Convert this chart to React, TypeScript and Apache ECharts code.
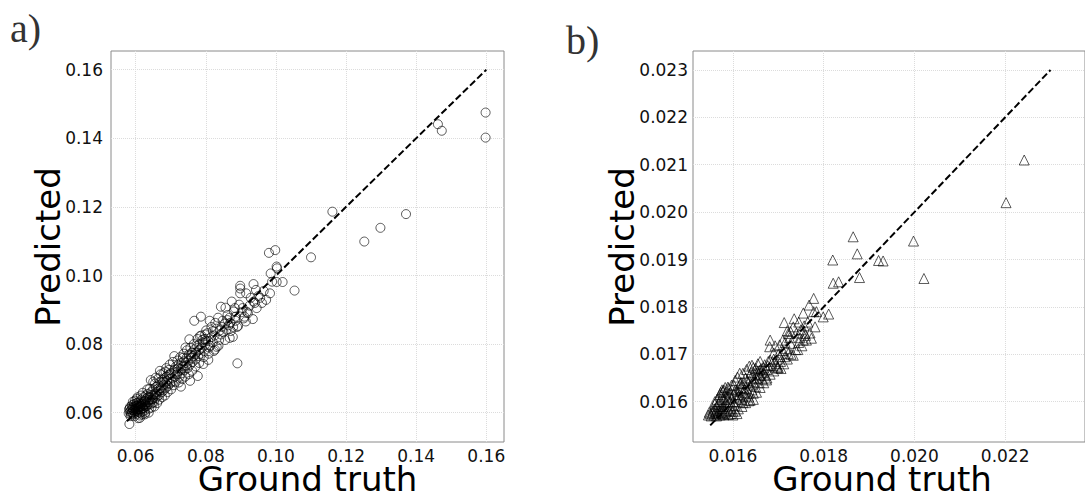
import React, { useEffect, useRef } from "react";
import * as echarts from "echarts";

const ticksAX = [0.06, 0.08, 0.1, 0.12, 0.14, 0.16];
const ticksAY = [0.06, 0.08, 0.1, 0.12, 0.14, 0.16];
const ticksBX = [0.016, 0.018, 0.02, 0.022];
const ticksBY = [0.016, 0.017, 0.018, 0.019, 0.02, 0.021, 0.022, 0.023];

const titleX = "Ground truth";
const titleY = "Predicted";
const panelLabels = ["a)", "b)"];

// panel a: [ground truth, predicted]
const pointsA = [
  [0.1598, 0.1475], [0.1598, 0.1402], [0.1462, 0.1441], [0.1473, 0.1422], [0.1161, 0.1186], [0.1371, 0.1179],
  [0.1298, 0.1139], [0.1252, 0.1099], [0.11, 0.1053], [0.1053, 0.0956], [0.098, 0.1066], [0.0998, 0.1074],
  [0.1002, 0.1026], [0.1003, 0.1021], [0.0985, 0.1006], [0.1002, 0.0981], [0.1019, 0.0981], [0.0989, 0.0982],
  [0.0983, 0.0948], [0.0972, 0.0929], [0.0936, 0.0975], [0.0943, 0.0958], [0.0955, 0.0935], [0.0936, 0.0924],
  [0.0898, 0.097], [0.0898, 0.0962], [0.0898, 0.0948], [0.0915, 0.0948], [0.0934, 0.0873], [0.0917, 0.0894],
  [0.089, 0.0744], [0.0843, 0.0909], [0.0874, 0.0924], [0.0895, 0.0915], [0.0856, 0.0906], [0.0767, 0.0868],
  [0.0786, 0.088], [0.0811, 0.0868], [0.0827, 0.0862], [0.0835, 0.0877], [0.0868, 0.0877], [0.0892, 0.0853],
  [0.0914, 0.0866], [0.0877, 0.0821], [0.0868, 0.0818], [0.0859, 0.0842], [0.0843, 0.0828], [0.0831, 0.0792],
  [0.0826, 0.0784], [0.0783, 0.0823], [0.0798, 0.0828], [0.0807, 0.0809], [0.0753, 0.0814], [0.0807, 0.0754],
  [0.0793, 0.0742], [0.0777, 0.0707], [0.0755, 0.0693], [0.0729, 0.0676], [0.0669, 0.0722], [0.0643, 0.0695],
  [0.0582, 0.0567], [0.0607, 0.0584],
  [0.0905, 0.0905], [0.091, 0.088], [0.088, 0.0895], [0.0862, 0.087], [0.0885, 0.0868], [0.0902, 0.0893],
  [0.0925, 0.0912], [0.094, 0.092], [0.095, 0.094], [0.0878, 0.085], [0.085, 0.0835], [0.0865, 0.0855],
  [0.0845, 0.085], [0.082, 0.0838], [0.0815, 0.082], [0.0805, 0.0832], [0.08, 0.081], [0.0792, 0.0805],
  [0.0812, 0.0795], [0.082, 0.0805], [0.0838, 0.0812],
  [0.07, 0.0715], [0.0705, 0.07], [0.071, 0.0725], [0.0712, 0.0705], [0.0715, 0.0735], [0.0718, 0.0712],
  [0.072, 0.072], [0.0722, 0.074], [0.0725, 0.0705], [0.0728, 0.0728], [0.073, 0.0745], [0.0732, 0.0715],
  [0.0735, 0.0735], [0.0738, 0.075], [0.074, 0.0725], [0.0742, 0.0745], [0.0745, 0.076], [0.0748, 0.073],
  [0.075, 0.0752], [0.0752, 0.077], [0.0755, 0.074], [0.0758, 0.076], [0.076, 0.0775], [0.0762, 0.0748],
  [0.0765, 0.0765], [0.0768, 0.0785], [0.077, 0.0755], [0.0772, 0.0775], [0.0775, 0.0795], [0.0778, 0.0765],
  [0.078, 0.0782], [0.0782, 0.08], [0.0785, 0.0772], [0.0788, 0.079], [0.079, 0.0812], [0.0795, 0.078],
  [0.0798, 0.0798], [0.0742, 0.079], [0.071, 0.0765], [0.0735, 0.076],
  [0.063, 0.064], [0.0632, 0.062], [0.0634, 0.0655], [0.0636, 0.0632], [0.0638, 0.0612], [0.064, 0.0645],
  [0.0642, 0.0625], [0.0644, 0.066], [0.0646, 0.0638], [0.0648, 0.065], [0.065, 0.0668], [0.0652, 0.063],
  [0.0654, 0.0655], [0.0656, 0.0642], [0.0658, 0.0675], [0.066, 0.066], [0.0662, 0.0648], [0.0664, 0.068],
  [0.0666, 0.0665], [0.0668, 0.0652], [0.067, 0.069], [0.0672, 0.0672], [0.0674, 0.066], [0.0676, 0.0695],
  [0.0678, 0.068], [0.068, 0.0665], [0.0682, 0.07], [0.0684, 0.0688], [0.0686, 0.0672], [0.0688, 0.0705],
  [0.069, 0.0692], [0.0692, 0.0678], [0.0694, 0.071], [0.0696, 0.0698], [0.0698, 0.0685], [0.0655, 0.0685],
  [0.064, 0.067], [0.0665, 0.07], [0.0685, 0.072], [0.0695, 0.0725],
  [0.058, 0.0598], [0.0581, 0.061], [0.0583, 0.0603], [0.0584, 0.0617], [0.0586, 0.0596], [0.0587, 0.0608],
  [0.0589, 0.0622], [0.059, 0.0601], [0.0591, 0.0613], [0.0593, 0.0595], [0.0594, 0.0606], [0.0595, 0.0625],
  [0.0597, 0.061], [0.0598, 0.06], [0.06, 0.0618], [0.0601, 0.0605], [0.0602, 0.0628], [0.0604, 0.0612],
  [0.0605, 0.0597], [0.0606, 0.0622], [0.0608, 0.0608], [0.0609, 0.0632], [0.061, 0.0615], [0.0612, 0.06],
  [0.0613, 0.0625], [0.0614, 0.061], [0.0616, 0.0638], [0.0617, 0.0618], [0.0618, 0.0603], [0.062, 0.063],
  [0.0621, 0.0614], [0.0622, 0.0645], [0.0624, 0.0622], [0.0625, 0.0606], [0.0626, 0.0635], [0.0628, 0.0618],
  [0.0629, 0.065], [0.0627, 0.06], [0.0611, 0.0592], [0.0596, 0.059], [0.0603, 0.064], [0.0615, 0.065],
  [0.0619, 0.0595], [0.0592, 0.0632], [0.0585, 0.059], [0.06, 0.0612], [0.0607, 0.0616], [0.0612, 0.062],
  [0.0618, 0.0625], [0.0623, 0.0612],
  [0.0598, 0.0635], [0.0605, 0.0645], [0.0612, 0.0585], [0.062, 0.0658], [0.0626, 0.0595], [0.0633, 0.0668],
  [0.0637, 0.06], [0.0645, 0.0615], [0.065, 0.069], [0.0653, 0.0618], [0.0657, 0.0702], [0.0661, 0.0628],
  [0.0667, 0.0638], [0.0671, 0.0712], [0.0675, 0.0645], [0.0679, 0.0715], [0.0683, 0.065], [0.0687, 0.073],
  [0.0691, 0.066], [0.0697, 0.074], [0.0701, 0.0668], [0.0706, 0.0748], [0.0709, 0.068], [0.0714, 0.069],
  [0.0719, 0.0752], [0.0723, 0.0688], [0.0727, 0.0762], [0.0733, 0.0698], [0.0737, 0.0772], [0.0741, 0.0705],
  [0.0746, 0.0782], [0.0751, 0.0712], [0.0756, 0.079], [0.0761, 0.0722], [0.0766, 0.08], [0.0771, 0.0735],
  [0.0776, 0.0815], [0.0781, 0.0745], [0.0787, 0.0825], [0.0794, 0.0762], [0.0801, 0.084], [0.0808, 0.0772],
  [0.0816, 0.085], [0.0823, 0.078], [0.083, 0.0845], [0.0836, 0.0795], [0.0848, 0.0868], [0.0855, 0.0812],
  [0.0862, 0.0885], [0.0871, 0.0838], [0.0883, 0.0905], [0.0889, 0.085], [0.0908, 0.0875], [0.092, 0.089],
  [0.0928, 0.0935], [0.0945, 0.0905], [0.096, 0.092], [0.0965, 0.0955],
  [0.064, 0.063], [0.0648, 0.064], [0.0657, 0.0652], [0.0663, 0.067], [0.0671, 0.0665], [0.0679, 0.069],
  [0.0688, 0.0682], [0.0697, 0.0712], [0.0703, 0.069], [0.0713, 0.0718], [0.0721, 0.073], [0.0731, 0.0725],
  [0.0744, 0.0738], [0.0757, 0.0768], [0.0769, 0.077], [0.0783, 0.0785], [0.0796, 0.0815], [0.0809, 0.079],
  [0.0825, 0.0825], [0.084, 0.084], [0.0855, 0.086], [0.087, 0.0862], [0.0885, 0.088],
  [0.0583, 0.0612], [0.0588, 0.06], [0.0592, 0.0608], [0.0596, 0.0618], [0.0599, 0.0604], [0.0603, 0.062],
  [0.0606, 0.0602], [0.061, 0.0628], [0.0614, 0.0618], [0.0619, 0.0612], [0.0623, 0.0632], [0.0627, 0.0625],
  [0.0631, 0.063], [0.0635, 0.0645], [0.0639, 0.0638], [0.0643, 0.0652], [0.0647, 0.0628], [0.0651, 0.0645],
  [0.0604, 0.0628], [0.059, 0.0615],
];

// panel b: [ground truth, predicted]
const pointsB = [
  [0.02242, 0.0211], [0.02202, 0.0202], [0.01998, 0.01939], [0.02021, 0.0186], [0.01921, 0.01898], [0.01931, 0.01897],
  [0.01865, 0.01948], [0.01874, 0.01912], [0.01879, 0.01862], [0.0182, 0.01899], [0.01821, 0.0185], [0.01833, 0.01853],
  [0.01778, 0.01818], [0.01768, 0.01804], [0.01755, 0.01787], [0.01778, 0.0179], [0.01784, 0.0179], [0.01799, 0.01779],
  [0.01811, 0.01785], [0.01781, 0.01758], [0.01773, 0.01734], [0.01759, 0.01744], [0.01755, 0.0173], [0.01733, 0.01758],
  [0.01713, 0.01767], [0.01722, 0.01744], [0.01727, 0.01723], [0.0171, 0.0173], [0.01682, 0.0173], [0.01681, 0.01716],
  [0.0169, 0.01703], [0.01698, 0.01671], [0.01682, 0.01688], [0.01704, 0.01695], [0.01722, 0.01702], [0.01733, 0.01698],
  [0.01642, 0.01677], [0.0166, 0.01667], [0.01674, 0.01646], [0.01576, 0.01625], [0.01589, 0.01631], [0.01609, 0.01575],
  [0.01638, 0.01603], [0.01616, 0.01638], [0.0155, 0.01575],
  [0.0169, 0.0169], [0.01695, 0.0168], [0.017, 0.017], [0.01705, 0.01685], [0.0171, 0.01708], [0.01715, 0.01695],
  [0.017, 0.01672], [0.01688, 0.01676], [0.01718, 0.01712], [0.01725, 0.01735], [0.0174, 0.01745], [0.01745, 0.01725],
  [0.0175, 0.01752], [0.01738, 0.0171], [0.01765, 0.01768], [0.01745, 0.01768], [0.01735, 0.01775], [0.0176, 0.0174],
  [0.016, 0.016], [0.01602, 0.01615], [0.01605, 0.01592], [0.01608, 0.01608], [0.0161, 0.01622], [0.01612, 0.016],
  [0.01615, 0.01615], [0.01618, 0.0163], [0.0162, 0.01605], [0.01622, 0.0162], [0.01625, 0.01638], [0.01628, 0.01612],
  [0.0163, 0.01628], [0.01632, 0.01645], [0.01635, 0.01618], [0.01638, 0.01635], [0.0164, 0.0165], [0.01642, 0.01625],
  [0.01645, 0.01642], [0.01648, 0.01658], [0.0165, 0.01632], [0.01652, 0.0165], [0.01655, 0.01665], [0.01658, 0.0164],
  [0.0166, 0.01655], [0.01662, 0.0167], [0.01665, 0.01648], [0.01668, 0.01662], [0.0167, 0.01678], [0.01672, 0.01655],
  [0.01675, 0.01668], [0.01678, 0.01685], [0.0164, 0.01662], [0.01628, 0.0165], [0.01618, 0.0164], [0.0165, 0.0167],
  [0.0166, 0.01685], [0.01622, 0.01598], [0.01645, 0.01618], [0.01635, 0.01602],
  [0.01552, 0.0157], [0.01555, 0.01578], [0.01558, 0.01572], [0.0156, 0.01585], [0.01562, 0.01575], [0.01564, 0.0159],
  [0.01566, 0.01578], [0.01568, 0.01595], [0.0157, 0.01582], [0.01572, 0.01572], [0.01574, 0.016], [0.01576, 0.01586],
  [0.01578, 0.01575], [0.0158, 0.01605], [0.01582, 0.0159], [0.01584, 0.01578], [0.01586, 0.01612], [0.01588, 0.01595],
  [0.0159, 0.01582], [0.01592, 0.01618], [0.01594, 0.016], [0.01596, 0.01585], [0.01598, 0.01625], [0.01575, 0.0161],
  [0.01585, 0.0162], [0.01595, 0.01575], [0.0159, 0.01573], [0.0158, 0.01572], [0.01568, 0.01574], [0.016, 0.0158],
  [0.01602, 0.01635], [0.0157, 0.016], [0.01562, 0.0158], [0.01578, 0.0159], [0.01588, 0.01605],
  [0.0156, 0.01595], [0.01565, 0.01605], [0.01572, 0.01615], [0.01578, 0.01622], [0.01583, 0.0163], [0.0159, 0.01628],
  [0.01597, 0.01635], [0.01605, 0.01645], [0.0161, 0.01652], [0.01615, 0.0166], [0.01622, 0.0166], [0.0163, 0.01668],
  [0.01636, 0.01675], [0.01645, 0.01672], [0.01655, 0.0168], [0.016, 0.01572], [0.01605, 0.0158], [0.01612, 0.01585],
  [0.0162, 0.0159], [0.01628, 0.01598], [0.01635, 0.0161], [0.01645, 0.01605], [0.01652, 0.0162], [0.0166, 0.0163],
  [0.01668, 0.0164], [0.01675, 0.0165], [0.01682, 0.01658], [0.0169, 0.01665], [0.01698, 0.01675], [0.01706, 0.0167],
  [0.01712, 0.0168], [0.0172, 0.0169], [0.01728, 0.017], [0.01743, 0.0171], [0.01752, 0.01718], [0.01762, 0.0173],
  [0.0177, 0.01745], [0.01612, 0.01612], [0.01625, 0.01625], [0.01633, 0.0164], [0.01647, 0.01648], [0.01657, 0.01658],
  [0.01667, 0.01672], [0.01677, 0.01676], [0.01585, 0.01598], [0.01596, 0.01608], [0.01606, 0.01625], [0.01616, 0.01628],
  [0.0156, 0.016], [0.01546, 0.01572], [0.01548, 0.01578], [0.01556, 0.01582], [0.01564, 0.0157], [0.01574, 0.01577],
  [0.01582, 0.0158], [0.01573, 0.0162], [0.0158, 0.01625], [0.01693, 0.01718], [0.01703, 0.0172], [0.01715, 0.01725],
  [0.0172, 0.0175], [0.01727, 0.01748], [0.01748, 0.01735], [0.01757, 0.0176],
];

const identityA = [[0.0575, 0.0575], [0.16, 0.16]];
const identityB = [[0.0155, 0.0155], [0.023, 0.023]];

const FONT = "DejaVu Sans";

function valueAxis(grid: number, min: number, max: number, ticks: number[], digits: number, margin: number) {
  return {
    type: "value",
    gridIndex: grid,
    min,
    max,
    axisLine: { show: false },
    axisTick: { show: false, customValues: ticks },
    axisLabel: {
      customValues: ticks,
      formatter: (v: number) => v.toFixed(digits),
      fontSize: 17,
      lineHeight: 17,
      fontFamily: FONT,
      color: "#111",
      margin,
    },
    splitLine: { show: true, lineStyle: { color: "#dcdcdc", type: "dotted", width: 1 } },
  };
}

export default function App() {
  const ref = useRef<HTMLDivElement>(null);
  useEffect(() => {
    if (!ref.current) return;
    const chart = echarts.init(ref.current, null, { renderer: "svg" });
    const gridBase = { show: true, borderColor: "#8a8a8a", borderWidth: 1, backgroundColor: "transparent", containLabel: false };
    const markerStyle = { color: "transparent", borderColor: "rgba(0,0,0,0.8)", borderWidth: 1 };
    const dashStyle = { color: "#000", width: 2, type: [7, 3] };
    const titleStyle = { fontSize: 34, lineHeight: 28, fontFamily: FONT, fill: "#000", align: "center", verticalAlign: "middle" };
    chart.setOption({
      animation: false,
      backgroundColor: "#fff",
      grid: [
        { ...gridBase, left: 111, top: 51, width: 393, height: 391 },
        { ...gridBase, left: 693, top: 51, width: 393, height: 391 },
      ],
      xAxis: [
        valueAxis(0, 0.05295, 0.16505, ticksAX, 2, 5),
        valueAxis(1, 0.01512, 0.02376, ticksBX, 3, 5),
      ],
      yAxis: [
        valueAxis(0, 0.05146, 0.16545, ticksAY, 2, 8),
        valueAxis(1, 0.01515, 0.0234, ticksBY, 3, 5),
      ],
      series: [
        { type: "scatter", xAxisIndex: 0, yAxisIndex: 0, data: pointsA, symbol: "circle", symbolSize: 9, itemStyle: markerStyle, z: 2 },
        { type: "scatter", xAxisIndex: 1, yAxisIndex: 1, data: pointsB, symbol: "triangle", symbolSize: 10, itemStyle: markerStyle, z: 2 },
        { type: "line", xAxisIndex: 0, yAxisIndex: 0, data: identityA, symbol: "none", lineStyle: dashStyle, z: 3 },
        { type: "line", xAxisIndex: 1, yAxisIndex: 1, data: identityB, symbol: "none", lineStyle: dashStyle, z: 3 },
      ],
      graphic: [
        { type: "text", x: 10, y: 28, style: { text: panelLabels[0], fontSize: 40, fontFamily: "Liberation Serif", fill: "#333", align: "left", verticalAlign: "middle" } },
        { type: "text", x: 566, y: 40, style: { text: panelLabels[1], fontSize: 40, fontFamily: "Liberation Serif", fill: "#333", align: "left", verticalAlign: "middle" } },
        { type: "text", x: 307.5, y: 479, style: { text: titleX, ...titleStyle } },
        { type: "text", x: 882, y: 479, style: { text: titleX, ...titleStyle } },
        { type: "text", x: 48, y: 247, rotation: Math.PI / 2, style: { text: titleY, ...titleStyle } },
        { type: "text", x: 622, y: 247, rotation: Math.PI / 2, style: { text: titleY, ...titleStyle } },
      ],
    });
    return () => chart.dispose();
  }, []);
  return <div ref={ref} style={{ position: "fixed", left: 0, top: 0, width: 1085, height: 497 }} />;
}
